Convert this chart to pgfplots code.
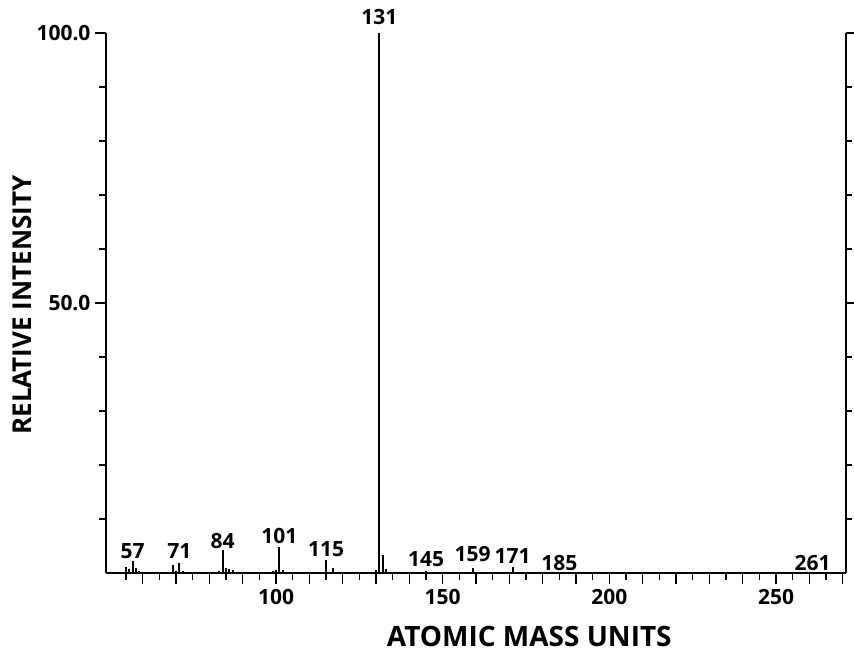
\documentclass[border=0pt]{standalone}
\usepackage{fontspec}
\setmainfont{Open Sans}
\usepackage{pgfplots}
\pgfplotsset{compat=1.18}
\begin{document}
\begin{tikzpicture}
\useasboundingbox (-106pt,-80pt) rectangle (748pt,573pt);
% spectrum: m/z, relative intensity
\begin{axis}[
    scale only axis,
    width=740pt, height=540pt,
    xmin=49, xmax=271,
    ymin=0, ymax=100,
    axis x line*=bottom,
    axis y line*=left,
    axis line style={line width=2pt},
    clip=false,
    tick align=outside,
    xtick={60,70,...,270},
    xticklabels={,,,,100,,,,,150,,,,,200,,,,,250,,},
    minor xtick={55,65,...,265},
    ytick={50,100},
    yticklabels={50.0,100.0},
    minor ytick={10,20,...,90},
    major tick length=11pt,
    minor tick length=7pt,
    every tick/.style={black,line width=1.5pt},
    tick label style={font=\bfseries\fontsize{21}{25}\selectfont},
    xticklabel style={yshift=-2pt},
    yticklabel style={xshift=-1pt},
    xlabel={ATOMIC MASS UNITS},
    ylabel={RELATIVE INTENSITY},
    xlabel style={font=\bfseries\fontsize{28}{32}\selectfont,
        at={(axis description cs:0.572,0)}, anchor=center, yshift=-63pt},
    ylabel style={font=\bfseries\fontsize{26}{30}\selectfont,
        at={(axis description cs:0,0.496)}, anchor=center, yshift=84pt},
    ]
\addplot[ycomb, black, line width=2pt, mark=none] coordinates {
    (55,1.2)(56,0.8)(57,2.3)(58,1.0)(59,0.4)
    (69,1.4)(70,0.3)(71,1.8)(72,0.4)
    (83,0.3)(84,4.3)(85,1.0)(86,0.8)(87,0.6)
    (99,0.3)(100,0.6)(101,4.9)(102,0.6)
    (113,0.2)(115,2.4)(117,0.9)
    (130,0.5)(131,100)(132,3.3)(133,0.8)
    (145,0.3)(159,0.9)(171,1.2)(185,0.2)(261,0.2)
};
\begin{scope}[every node/.style={font=\bfseries\fontsize{21}{25}\selectfont}]
\node at (axis cs:57,4.1) {57};
\node at (axis cs:71,4.1) {71};
\node at (axis cs:84,6.0) {84};
\node at (axis cs:101,6.9) {101};
\node at (axis cs:115,4.4) {115};
\node at (axis cs:131,103) {131};
\node at (axis cs:145,2.6) {145};
\node at (axis cs:159,3.5) {159};
\node at (axis cs:171,3.2) {171};
\node at (axis cs:185,1.8) {185};
\node at (axis cs:261,1.8) {261};
\end{scope}
\end{axis}
\begin{axis}[
    scale only axis,
    width=740pt, height=540pt,
    xmin=49, xmax=271,
    ymin=0, ymax=100,
    axis x line=none,
    axis y line*=right,
    axis line style={line width=2pt},
    tick align=outside,
    ytick={50,100},
    yticklabels={,},
    minor ytick={10,20,...,90},
    major tick length=8pt,
    minor tick length=6pt,
    every tick/.style={black,line width=1.5pt},
    ]
\end{axis}
\end{tikzpicture}
\end{document}
